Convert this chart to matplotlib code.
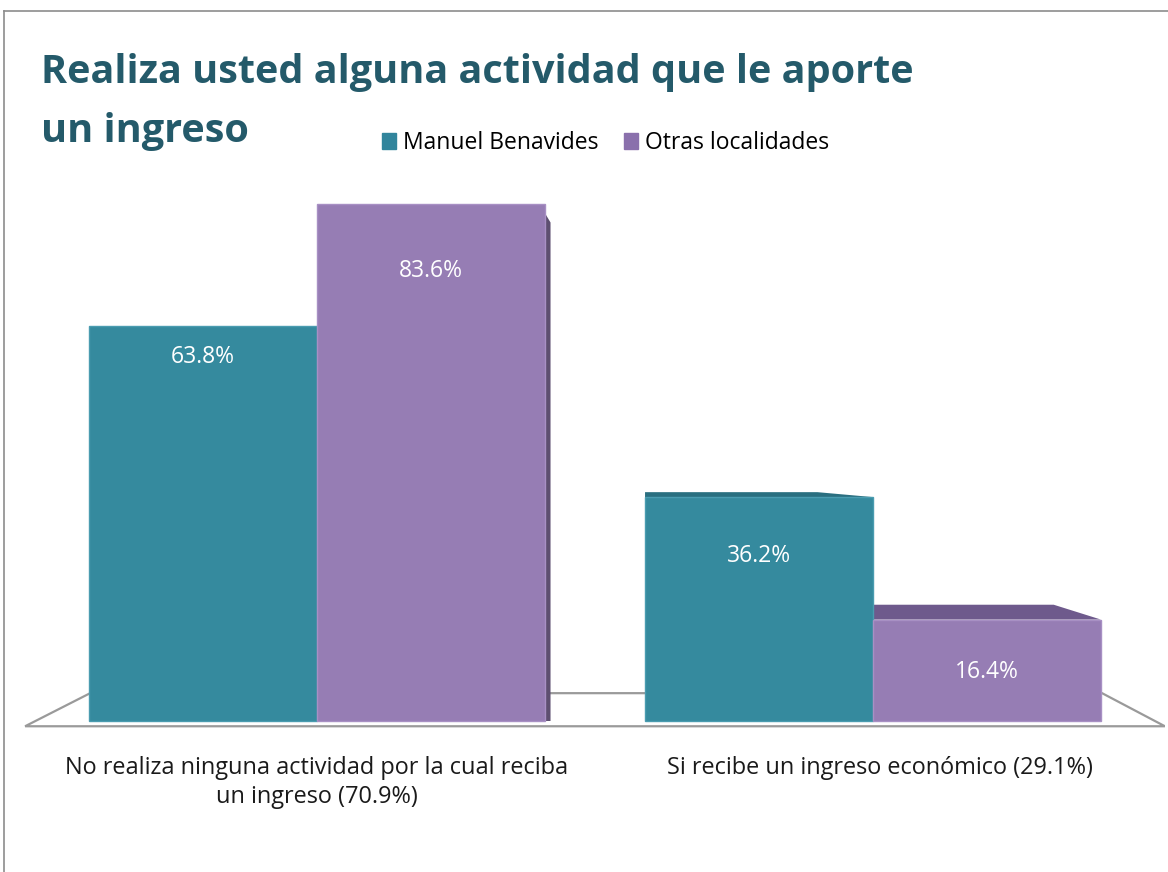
import matplotlib.pyplot as plt
from matplotlib.patches import Polygon
from matplotlib.lines import Line2D
import numpy as np

# datos
categorias = ["No realiza ninguna actividad por la cual reciba\nun ingreso (70.9%)",
              "Si recibe un ingreso económico (29.1%)"]
series = ["Manuel Benavides", "Otras localidades"]
manuel = [63.8, 36.2]
otras = [83.6, 16.4]

titulo_1 = "Realiza usted alguna actividad que le aporte"
titulo_2 = "un ingreso"

col_teal = "#358a9e"
col_purple = "#967db4"
leg_teal = "#31859c"
leg_purple = "#8a70ac"
col_title = "#245a6a"

plt.rcParams['font.family'] = ['Open Sans', 'DejaVu Sans']

W, H = 1168, 872
fig = plt.figure(figsize=(W / 100, H / 100), dpi=100)

# marco gris
fig.add_artist(Line2D([4 / W, 4 / W], [0, 1 - 11 / H], color="#8c8c8c", lw=1.2))
fig.add_artist(Line2D([4 / W, 1], [1 - 11 / H, 1 - 11 / H], color="#8c8c8c", lw=1.2))

# ejes: 6.185 px por punto porcentual, base en y=721 px
px = 6.185
y0, y1 = -3, 100
ax = fig.add_axes([22 / W, (H - (721 - y0 * px)) / H, 1143 / W, (y1 - y0) * px / H])
ax.set_xlim(-0.5306, 1.5252)
ax.set_ylim(y0, y1)
ax.axis("off")

x = np.arange(len(categorias))
ancho = 0.41

# piso en perspectiva
piso = Polygon([[-0.525, -0.85], [1.525, -0.85], [1.412, 4.5], [-0.408, 4.5]],
               closed=True, facecolor="white", edgecolor="#9a9a9a", lw=1.6, zorder=1)
ax.add_patch(piso)

b1 = ax.bar(x - ancho / 2, manuel, ancho, color=col_teal, edgecolor="#4a9cb0", lw=1, zorder=3)
b2 = ax.bar(x + ancho / 2, otras, ancho, color=col_purple, edgecolor="#a890c4", lw=1, zorder=3)

# cara superior de la barra baja (perspectiva)
rect = b2[1]
xl = rect.get_x()
xr = xl + rect.get_width()
top = rect.get_height()
ax.add_patch(Polygon([[xl, top], [xr, top], [xr - 0.085, top + 2.4], [xl, top + 2.4]],
                     closed=True, facecolor="#6e5a8c", edgecolor="none", zorder=2))
# pequeño borde inclinado en la barra teal
rect = b1[1]
xr = rect.get_x() + rect.get_width()
top = rect.get_height()
ax.add_patch(Polygon([[rect.get_x(), top], [xr, top], [xr - 0.1, top + 0.8], [rect.get_x(), top + 0.8]],
                     closed=True, facecolor="#2a6f80", edgecolor="none", zorder=2))
# lateral oscuro de la barra alta
r = b2[0]
xr = r.get_x() + r.get_width()
ax.add_patch(Polygon([[xr, 0], [xr, r.get_height() - 1.5], [xr + 0.01, r.get_height() - 3],
                      [xr + 0.01, 0]],
                     closed=True, facecolor="#5d4f70", edgecolor="none", zorder=2))

# etiquetas de valores
bajada = [5.0, 9.6, 10.8, 8.5]
barras = list(b1) + list(b2)
vals = manuel + otras
for rect, v, d in zip(barras, vals, bajada):
    ax.text(rect.get_x() + rect.get_width() / 2, v - d, f"{v:.1f}%",
            ha="center", va="center", color="white", fontsize=16.5, zorder=5)

# etiquetas de categoria
desplaz = [0.0, 0.013]
for xi, lab, dx in zip(x, categorias, desplaz):
    ax.text(xi + dx, -5.6, lab, ha="center", va="top", fontsize=16.9,
            color="#1a1a1a", linespacing=1.32)

# titulo
fig.text(41 / W, 1 - 83 / H, titulo_1, fontsize=28.5, fontweight="bold",
         color=col_title, va="baseline", ha="left")
fig.text(41 / W, 1 - 142 / H, titulo_2, fontsize=28.5, fontweight="bold",
         color=col_title, va="baseline", ha="left")

# leyenda
handles = [plt.Rectangle((0, 0), 1, 1, color=leg_teal),
           plt.Rectangle((0, 0), 1, 1, color=leg_purple)]
fig.legend(handles, series, loc="center left", bbox_to_anchor=(382 / W, 1 - 143 / H),
           ncol=2, frameon=False, fontsize=16.5, handlelength=0.6, handleheight=0.65,
           handletextpad=0.3, columnspacing=1.15, borderpad=0, borderaxespad=0)

plt.savefig("out.png", dpi=100)
